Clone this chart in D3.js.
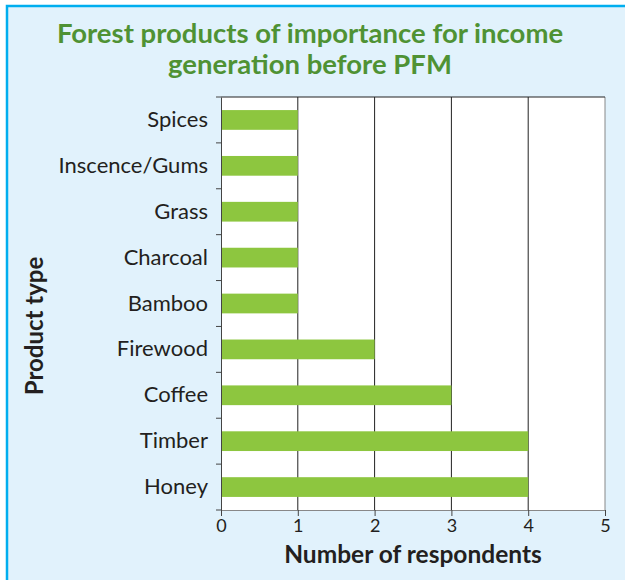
<!DOCTYPE html>
<html><head><meta charset="utf-8">
<script src="https://cdn.jsdelivr.net/npm/d3@7"></script>
<style>body{margin:0;background:#fff}svg{display:block}</style>
</head><body>
<script>
const categories = ["Spices","Inscence/Gums","Grass","Charcoal","Bamboo","Firewood","Coffee","Timber","Honey"];
const values = [1,1,1,1,1,2,3,4,4];
const xTicks = [0,1,2,3,4,5];
const titleLines = ["Forest products of importance for income","generation before PFM"];

const W=625,H=580;
const F="Lato, sans-serif";
const svg=d3.select("body").append("svg").attr("width",W).attr("height",H);
svg.append("rect").attr("x",7).attr("y",6).attr("width",W).attr("height",H).attr("fill","#e1f2fc").attr("stroke","#00aeef").attr("stroke-width",2.5);

const m={l:221,r:605,t:97,b:510};
const x=d3.scaleLinear().domain([0,5]).range([m.l,m.r]);
const y=d3.scaleBand().domain(categories).range([m.t,m.b]).paddingInner(0.57).paddingOuter(0.285);
const yb=d3.scaleBand().domain(categories).range([m.t,m.b]);

svg.append("rect").attr("x",m.l).attr("y",m.t).attr("width",m.r-m.l).attr("height",m.b-m.t).attr("fill","#fff");

// gridlines
svg.append("g").selectAll("line").data(xTicks.slice(1)).join("line")
  .attr("x1",d=>x(d)).attr("x2",d=>x(d)).attr("y1",m.t).attr("y2",m.b)
  .attr("stroke",d=>d===5?"#888":"#222").attr("stroke-width",1);
svg.append("line").attr("x1",m.l).attr("x2",m.r).attr("y1",m.t).attr("y2",m.t).attr("stroke","#222");

// bars
svg.append("g").selectAll("rect").data(categories).join("rect")
  .attr("x",x(0)).attr("y",d=>y(d)).attr("height",y.bandwidth())
  .attr("width",(d,i)=>x(values[i])-x(0)).attr("fill","#8dc63f");

// x axis
const xa=svg.append("g").attr("transform",`translate(0,${m.b})`)
  .call(d3.axisBottom(x).tickValues(xTicks).tickFormat(d3.format("d")).tickSize(6).tickPadding(3));
xa.select(".domain").attr("stroke","#888");
xa.selectAll(".tick line").attr("stroke","#444");
xa.selectAll("text").attr("font-family",F).attr("font-size",18).attr("fill","#231f20");

// y axis
const ya=svg.append("g").attr("transform",`translate(${m.l},0)`).call(d3.axisLeft(yb).tickSize(0).tickPadding(13));
ya.select(".domain").attr("stroke","#444");
ya.selectAll("text").attr("font-family",F).attr("font-size",22).attr("fill","#231f20");
svg.append("g").selectAll("line").data(categories.slice(1).concat(["__end"])).join("line")
  .attr("x1",m.l-5).attr("x2",m.l).attr("y1",d=>d==="__end"?m.b:yb(d)).attr("y2",d=>d==="__end"?m.b:yb(d))
  .attr("stroke","#444");
svg.append("line").attr("x1",m.l-5).attr("x2",m.l).attr("y1",m.t).attr("y2",m.t).attr("stroke","#444");

// titles
svg.append("g").selectAll("text").data(titleLines).join("text")
  .attr("x",310).attr("y",(d,i)=>43+i*30.5).attr("text-anchor","middle")
  .attr("font-family",F).attr("font-weight","bold").attr("font-size",27.5)
  .attr("fill","#4f9234").text(d=>d);
svg.append("text").attr("x",413).attr("y",563).attr("text-anchor","middle")
  .attr("font-family",F).attr("font-weight","bold").attr("font-size",24.5)
  .attr("fill","#231f20").text("Number of respondents");
svg.append("text").attr("transform","translate(43,326) rotate(-90)").attr("text-anchor","middle")
  .attr("font-family",F).attr("font-weight","bold").attr("font-size",24)
  .attr("fill","#231f20").text("Product type");
</script>
</body></html>
